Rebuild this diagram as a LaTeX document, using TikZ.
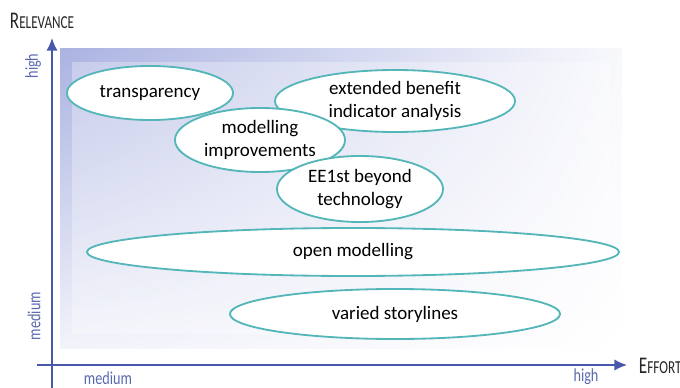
\documentclass[tikz,border=0pt]{standalone}
\usepackage{fontspec}
\setmainfont{Carlito}
\usepackage{xcolor}
\usetikzlibrary{shapes.geometric,arrows.meta,shadings}

\definecolor{axisblue}{RGB}{72,88,170}
\definecolor{ticktext}{RGB}{90,105,175}
\definecolor{bgblue}{RGB}{170,178,225}
\definecolor{rimteal}{RGB}{84,182,184}

\tikzset{
  topic/.style={ellipse,draw=rimteal,line width=1.3pt,fill=white,inner sep=0pt,
    align=center,font=\fontsize{13.5}{16}\selectfont},
  tick/.style={text=ticktext,font=\fontsize{13}{14}\selectfont\addfontfeatures{FakeStretch=0.78}},
  axistitle/.style={text=black!85,font=\addfontfeatures{FakeStretch=0.72}}
}

\begin{document}
\begin{tikzpicture}[x=0.025cm,y=-0.025cm]
\useasboundingbox (0,0) rectangle (680,388);
% background panel
\shade[upper left=bgblue,upper right=white!92!bgblue,lower left=white!85!bgblue,lower right=white]
  (60,48) rectangle (622,348);
\fill[white,opacity=0.3] (72,62) rectangle (610,334);
% axes
\coordinate (yfoot) at (52,388);
\coordinate (ytip) at (52,38);
\coordinate (xfoot) at (37,365);
\coordinate (xtip) at (627,365);
\draw[axisblue,line width=1pt,-{Latex[length=9pt,width=8pt]}] (yfoot) -- (ytip);
\draw[axisblue,line width=1pt,-{Latex[length=9pt,width=8pt]}] (xfoot) -- (xtip);
\node[axistitle,anchor=west] (relevance) at (5,21) {{\fontsize{17}{17}\selectfont R}{\fontsize{13}{13}\selectfont ELEVANCE}};
\node[axistitle,anchor=west] (effort) at (634,366) {{\fontsize{17}{17}\selectfont E}{\fontsize{13}{13}\selectfont FFORT}};
\node[tick,rotate=90] (yhigh) at (33,66) {high};
\node[tick,rotate=90] (ymed) at (34,316) {medium};
\node[tick] (xmed) at (108,378) {medium};
\node[tick] (xhigh) at (586,377) {high};
% topics
\node[topic,minimum width=4.15cm,minimum height=1.35cm] (transp) at (150,93) {transparency};
\node[topic,minimum width=6cm,minimum height=1.55cm] (benefit) at (395,101) {extended benefit\\indicator analysis};
\node[topic,minimum width=4.25cm,minimum height=1.6cm] (improve) at (260,140) {modelling\\improvements};
\node[topic,minimum width=4.15cm,minimum height=1.65cm] (beyond) at (360,189) {EE1st beyond\\technology};
\node[topic,minimum width=13.3cm,minimum height=1.2cm] (open) at (353,252) {open modelling};
\node[topic,minimum width=8.25cm,minimum height=1.25cm] (story) at (395,314) {varied storylines};
\end{tikzpicture}
\end{document}
